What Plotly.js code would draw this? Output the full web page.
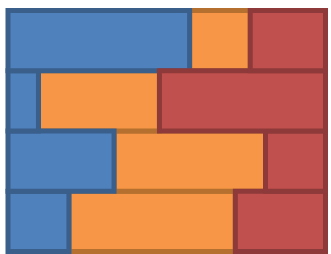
<!DOCTYPE html>
<html>
<head>
<meta charset="utf-8">
<script src="https://cdn.plot.ly/plotly-3.0.1.min.js"></script>
<style>html,body{margin:0;padding:0;background:#fff;}#chart{width:331px;height:254px;}</style>
</head>
<body>
<div id="chart"></div>
<script>
// rows listed bottom to top
const categories = ["D", "C", "B", "A"];
const seriesBlue = [19.2, 33.4, 9.6, 57.2];
const seriesOrange = [52.4, 47.7, 38.1, 19.1];
const seriesRed = [28.4, 18.9, 52.3, 23.7];

const baseOrange = seriesBlue.slice();
const baseRed = seriesBlue.map((v, i) => v + seriesOrange[i]);

function bar(x, base, fill, line) {
  return {
    type: "bar", orientation: "h", y: categories, x: x, base: base,
    marker: {color: fill, line: {color: line, width: 5}},
    hoverinfo: "none"
  };
}

const data = [
  bar(seriesOrange, baseOrange, "#F79646", "#B5702F"),
  bar(seriesBlue, seriesBlue.map(() => 0), "#4F81BD", "#3A5F8B"),
  bar(seriesRed, baseRed, "#C0504D", "#8E3A3A")
];

const layout = {
  width: 331, height: 254,
  margin: {l: 0, r: 0, t: 0, b: 0, pad: 0},
  barmode: "overlay", bargap: 0,
  showlegend: false,
  paper_bgcolor: "#fff", plot_bgcolor: "#fff",
  xaxis: {range: [-2.52, 101.73], visible: false, fixedrange: true},
  yaxis: {range: [-0.5415, 3.674], visible: false, fixedrange: true, type: "category"}
};

Plotly.newPlot("chart", data, layout, {displayModeBar: false, staticPlot: true});
</script>
</body>
</html>
